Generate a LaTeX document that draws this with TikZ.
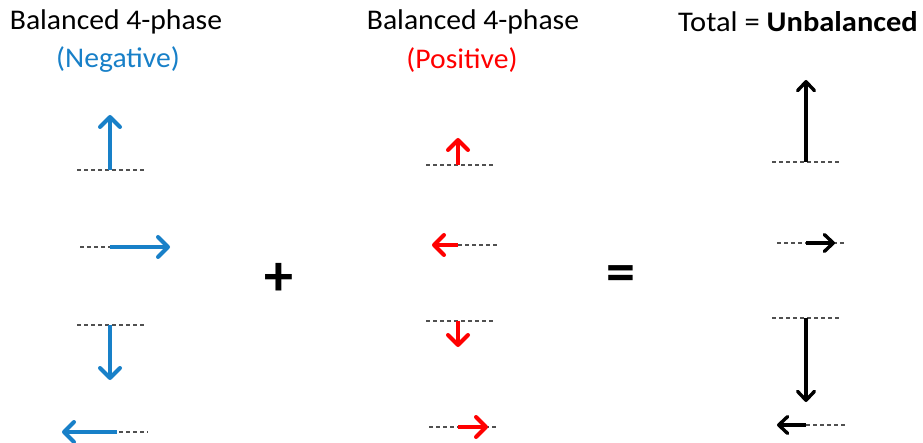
\documentclass[tikz,border=0pt]{standalone}
\usepackage{fontspec}
\setmainfont{Carlito}
\usetikzlibrary{arrows.meta}
\definecolor{negblue}{RGB}{24,128,200}
\definecolor{posred}{RGB}{255,0,0}
\definecolor{dashgray}{RGB}{80,80,80}
\begin{document}
\begin{tikzpicture}[x=1pt,y=-1pt,
  ref/.style={draw=dashgray,line width=1.4pt,dash pattern=on 4pt off 3pt},
  vec/.style={line width=4.4pt,-{Straight Barb[length=10pt,width=20pt,line width=4pt,round]}},
  blk/.style={line width=3.4pt,-{Straight Barb[length=9pt,width=17pt,line width=3.4pt,round]}},
  ttl/.style={font=\fontsize{28.5}{32}\selectfont,inner sep=0pt},
  op/.style={font=\fontsize{58}{62}\selectfont\bfseries,inner sep=0pt}]
\useasboundingbox (0,0) rectangle (923,443);
% titles
\node[ttl] (t1) at (116,22) {\scalebox{1.04}[1]{Balanced 4-phase}};
\node[ttl,text=negblue] (s1) at (118,60) {\scalebox{1.04}[1]{(Negative)}};
\node[ttl] (t2) at (473,22) {\scalebox{1.04}[1]{Balanced 4-phase}};
\node[ttl,text=posred] (s2) at (462,60) {\scalebox{1.04}[1]{(Positive)}};
\node[ttl,anchor=east] (t3) at (918,22) {\scalebox{1.07}[1]{Total = \textbf{Unbalanced}}};
\node[op] (plus) at (279,279) {+};
\node[op] (eq) at (621,279) {=};
% negative sequence
\coordinate (n1a) at (77,170); \coordinate (n1b) at (145,170);
\coordinate (n1o) at (110,170); \coordinate (n1t) at (110,115);
\draw[ref] (n1a) -- (n1b);
\draw[vec,negblue] (n1o) -- (n1t);
\coordinate (n2a) at (80,247); \coordinate (n2o) at (110,247); \coordinate (n2t) at (170,247);
\draw[ref] (n2a) -- (n2o);
\draw[vec,negblue] (n2o) -- (n2t);
\coordinate (n3a) at (77,325); \coordinate (n3b) at (145,325);
\coordinate (n3o) at (110,325); \coordinate (n3t) at (110,380);
\draw[ref] (n3a) -- (n3b);
\draw[vec,negblue] (n3o) -- (n3t);
\coordinate (n4a) at (84,432); \coordinate (n4b) at (148,432);
\coordinate (n4o) at (117,432); \coordinate (n4t) at (62,432);
\draw[ref] (n4a) -- (n4b);
\draw[vec,negblue] (n4o) -- (n4t);
% positive sequence
\coordinate (p1a) at (426,165); \coordinate (p1b) at (493,165);
\coordinate (p1o) at (458,165); \coordinate (p1t) at (458,138);
\draw[ref] (p1a) -- (p1b);
\draw[vec,posred] (p1o) -- (p1t);
\coordinate (p2o) at (458,245); \coordinate (p2b) at (498,245); \coordinate (p2t) at (432,245);
\draw[ref] (p2o) -- (p2b);
\draw[vec,posred] (p2o) -- (p2t);
\coordinate (p3a) at (426,321); \coordinate (p3b) at (493,321);
\coordinate (p3o) at (458,321); \coordinate (p3t) at (458,347);
\draw[ref] (p3a) -- (p3b);
\draw[vec,posred] (p3o) -- (p3t);
\coordinate (p4a) at (429,427); \coordinate (p4b) at (497,427);
\coordinate (p4o) at (458,427); \coordinate (p4t) at (488,427);
\draw[ref] (p4a) -- (p4b);
\draw[vec,posred] (p4o) -- (p4t);
% total
\coordinate (s1a) at (772,162); \coordinate (s1b) at (839,162);
\coordinate (s1o) at (806,162); \coordinate (s1t) at (806,80);
\draw[ref] (s1a) -- (s1b);
\draw[blk] (s1o) -- (s1t);
\coordinate (s2a) at (777,243); \coordinate (s2b) at (845,243);
\coordinate (s2o) at (806,243); \coordinate (s2t) at (835,243);
\draw[ref] (s2a) -- (s2b);
\draw[blk] (s2o) -- (s2t);
\coordinate (s3a) at (772,318); \coordinate (s3b) at (839,318);
\coordinate (s3o) at (806,318); \coordinate (s3t) at (806,402);
\draw[ref] (s3a) -- (s3b);
\draw[blk] (s3o) -- (s3t);
\coordinate (s4o) at (806,425); \coordinate (s4b) at (845,425); \coordinate (s4t) at (777,425);
\draw[ref] (s4o) -- (s4b);
\draw[blk] (s4o) -- (s4t);
\end{tikzpicture}
\end{document}
